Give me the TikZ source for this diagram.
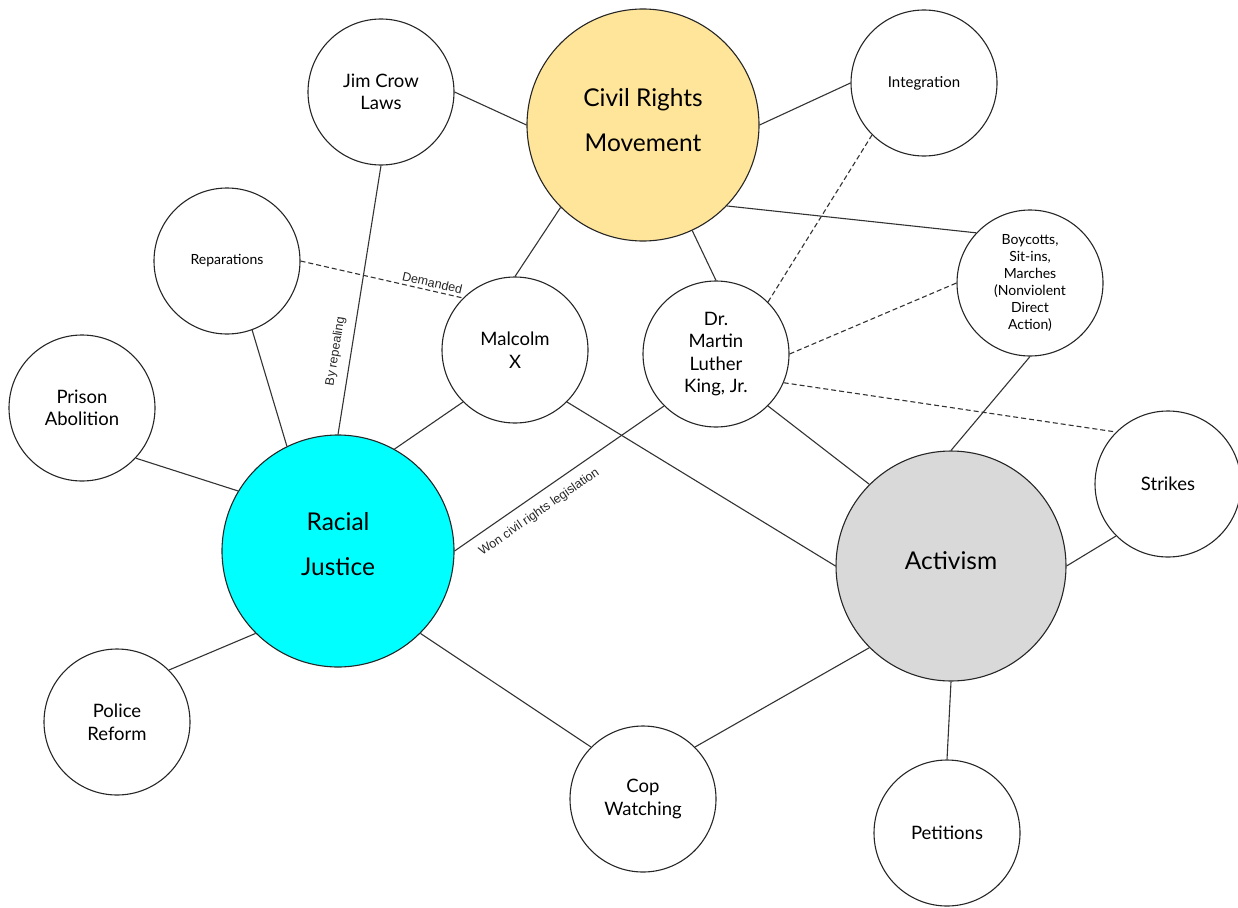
\documentclass[tikz,border=0pt]{standalone}
\usepackage{fontspec}
\setmainfont{Lato}
\newfontfamily\edgefont{Liberation Sans}
\usepackage{xcolor}
\usepackage{tikz}
\usetikzlibrary{positioning,calc}
\definecolor{crmyellow}{HTML}{FFE599}
\definecolor{rjcyan}{HTML}{00FFFF}
\definecolor{actgray}{HTML}{D9D9D9}

\begin{document}
\begin{tikzpicture}[x=1pt, y=-1pt,
  bubble/.style={circle, draw=black!85, line width=1.1pt, minimum size=146pt, inner sep=0pt, align=center, font=\fontsize{18.5}{22.5}\selectfont},
  bigbubble/.style={bubble, minimum size=232pt, font=\fontsize{24.5}{45}\selectfont},
  smalltext/.style={font=\fontsize{14}{17}\selectfont},
  link/.style={draw=black!80, line width=1.1pt},
  hint/.style={link, dash pattern=on 5pt off 3pt},
  edgelabel/.style={font=\edgefont\fontsize{12.5}{14}\selectfont, text=black!85, sloped, inner sep=6pt}]
\useasboundingbox (0,0) rectangle (1238,907);

% Main topics
\node[bigbubble, fill=crmyellow, text depth=10pt] (crm) at (643,125) {Civil Rights\\Movement};
\node[bigbubble, fill=rjcyan, text depth=14pt] (rj) at (338,551) {Racial\\Justice};
\node[bigbubble, minimum size=230pt, fill=actgray, text depth=10pt] (act) at (951,566) {Activism};

% People
\node[bubble] (mx) at (515,350) {Malcolm\\X};
\node[bubble] (mlk) at (716,354) {Dr.\\Martin\\Luther\\King, Jr.};

% Surrounding ideas
\node[bubble] (jim) at (381,92) {Jim Crow\\Laws};
\node[bubble, font=\fontsize{15}{18}\selectfont] (integ) at (924,83) {Integration};
\node[bubble, smalltext] (rep) at (227,261) {Reparations};
\node[bubble, smalltext] (boy) at (1030,283) {Boycotts,\\Sit-ins,\\Marches\\(Nonviolent\\Direct\\Action)};
\node[bubble] (pa) at (82,408) {Prison\\Abolition};
\node[bubble] (strk) at (1168,484) {Strikes};
\node[bubble] (pr) at (117,722) {Police\\Reform};
\node[bubble] (cop) at (643,799) {Cop\\Watching};
\node[bubble] (pet) at (947,833) {Petitions};

% Plain links
\foreach \a/\b in {jim.east/crm.west, crm.east/integ.west, crm.225/mx.north, crm.295/mlk.north,
                   crm.316/boy.137, rep.290/rj.116, mx.225/rj.61, mx.315/act.west,
                   mlk.315/act.135, boy.south/act.north, act.east/strk.225, act.south/pet.north,
                   act.225/cop.45, rj.315/cop.135, pa.317/rj.149, pr.45/rj.225} {
    \draw[link] (\a) -- (\b);
}

% Labelled links
\draw[link] (jim.south) -- (rj.north) node[edgelabel, pos=0.7, above, inner sep=9pt] {By repealing};
\draw[link] (rj.east) -- (mlk.225) node[edgelabel, pos=0.36, below, inner sep=10pt] {Won civil rights legislation};

% Dashed links
\draw[hint] (rep.east) -- (mx.135) node[edgelabel, pos=0.8, above, inner sep=3pt] {Demanded};
\foreach \a/\b in {mlk.45/integ.225, mlk.east/boy.west, mlk.337/strk.135} {
    \draw[hint] (\a) -- (\b);
}

\end{tikzpicture}
\end{document}
